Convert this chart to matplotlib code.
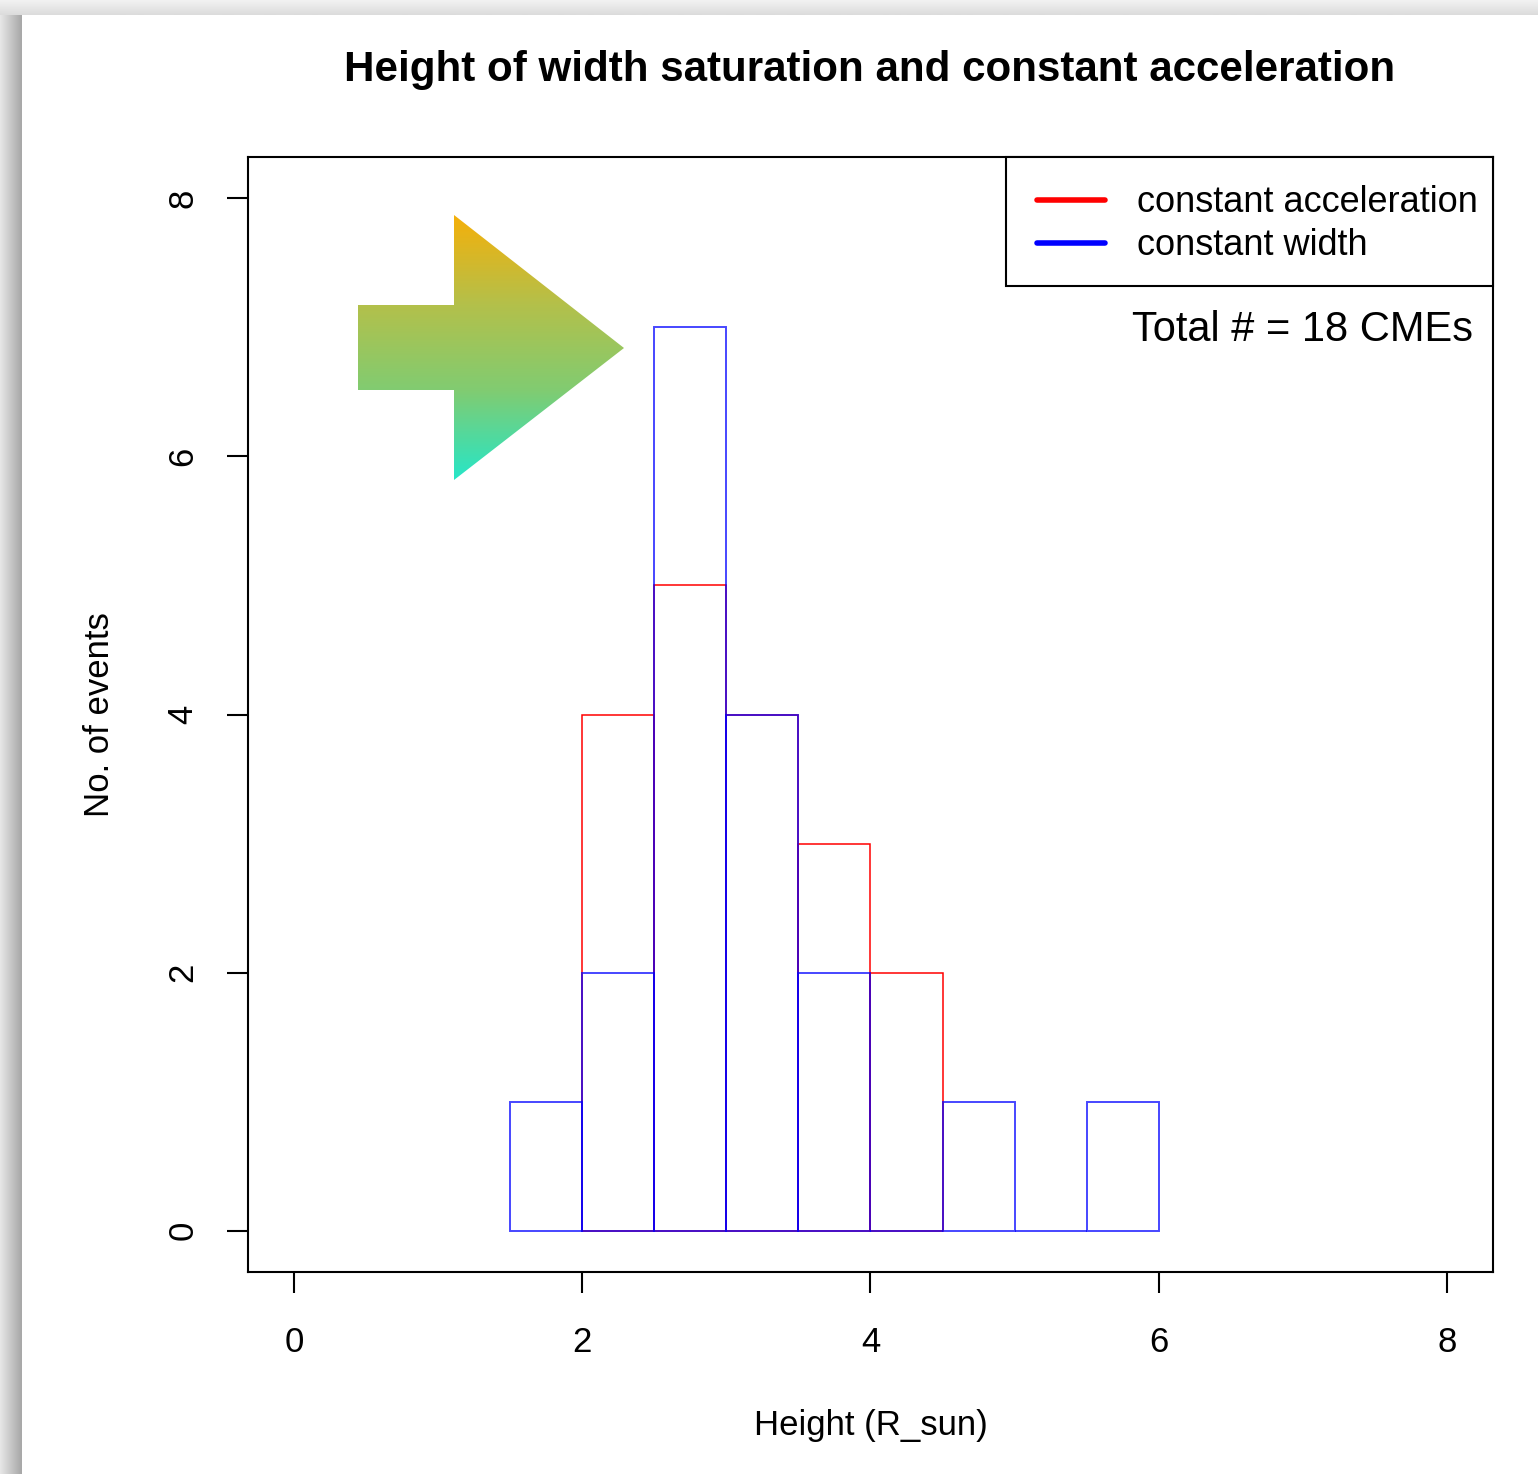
import numpy as np
import matplotlib
matplotlib.use('Agg')
import matplotlib.pyplot as plt
from matplotlib.patches import Polygon, Rectangle
from matplotlib.colors import LinearSegmentedColormap

plt.rcParams['font.family'] = ['Liberation Sans', 'DejaVu Sans']

# histogram data (bin width 0.5)
acc_edges = [2.0, 2.5, 3.0, 3.5, 4.0]
acc_counts = [4, 5, 4, 3, 2]
wid_edges = [1.5, 2.0, 2.5, 3.0, 3.5, 4.0, 4.5, 5.0, 5.5]
wid_counts = [1, 2, 7, 4, 2, 0, 1, 0, 1]
bin_w = 0.5
xticks = [0, 2, 4, 6, 8]
yticks = [0, 2, 4, 6, 8]
series_names = ['constant acceleration', 'constant width']
series_colors = ['red', 'blue']

W, H = 1538, 1474
fig = plt.figure(figsize=(W / 100, H / 100), dpi=100)

# gray screenshot frame on left and top
bg = fig.add_axes([0, 0, 1, 1])
bg.axis('off')
bg.imshow(np.linspace(0, 1, 22)[None, :], extent=[0, 22, H, 0],
          cmap=LinearSegmentedColormap.from_list('g', ['#e6e6e6', '#a8a8a8']), aspect='auto', zorder=0)
bg.imshow(np.linspace(0, 1, 15)[:, None], extent=[0, W, 15, 0],
          cmap=LinearSegmentedColormap.from_list('g2', ['#f2f2f2', '#dcdcdc']), aspect='auto', zorder=0)
bg.set_xlim(0, W)
bg.set_ylim(H, 0)

ax = fig.add_axes([248 / W, (H - 1272) / H, (1493 - 248) / W, (1272 - 157) / H])
ax.set_xlim(-0.32, 8.32)
ax.set_ylim(-0.32, 8.32)

ax.bar(acc_edges, acc_counts, width=bin_w, align='edge', fill=False, edgecolor='red', linewidth=1.1)
ax.bar(wid_edges, wid_counts, width=bin_w, align='edge', fill=False, edgecolor=(0, 0, 1, 0.72), linewidth=1.4)

for s in ax.spines.values():
    s.set_linewidth(1.5)
ax.set_xticks(xticks)
ax.set_yticks(yticks)
ax.tick_params(length=15, width=1.5, labelsize=25)
ax.tick_params(axis='x', pad=24)
ax.tick_params(axis='y', pad=20)
for lab in ax.get_yticklabels():
    lab.set_rotation(90)
    lab.set_va('center')

ax.set_xlabel('Height (R_sun)', fontsize=25, labelpad=36)
ax.set_ylabel('No. of events', fontsize=25, labelpad=36)
fig.text(870 / W, 1 - 70 / H, 'Height of width saturation and constant acceleration',
         fontsize=30.3, fontweight='bold', ha='center', va='center')

# overlay in pixel coordinates: legend box, total label, gradient arrow
ov = fig.add_axes([0, 0, 1, 1])
ov.axis('off')
ov.add_patch(Rectangle((1006, 157), 1493 - 1006, 286 - 157, facecolor='white',
                       edgecolor='black', linewidth=1.5))
for i, (name, col) in enumerate(zip(series_names, series_colors)):
    yy = 200 + 43 * i
    ov.plot([1037, 1105], [yy, yy], color=col, linewidth=4, solid_capstyle='round')
    ov.text(1137, yy + 2, name, fontsize=26, ha='left', va='center')
ov.text(1473, 330, 'Total # = 18 CMEs', fontsize=30, ha='right', va='center')

arrow_pts = [(358, 305), (454, 305), (454, 215), (624, 348), (454, 480), (454, 390), (358, 390)]
poly = Polygon(arrow_pts, closed=True, facecolor='none', edgecolor='none')
ov.add_patch(poly)
cmap = LinearSegmentedColormap.from_list('arr', ['#f5b00a', '#b4c04a', '#80cc72', '#26e6c8'])
img = ov.imshow(np.linspace(0, 1, 256)[:, None], extent=[358, 624, 480, 215], cmap=cmap, aspect='auto')
img.set_clip_path(poly)
ov.set_xlim(0, W)
ov.set_ylim(H, 0)

fig.savefig('out.png', dpi=100)
